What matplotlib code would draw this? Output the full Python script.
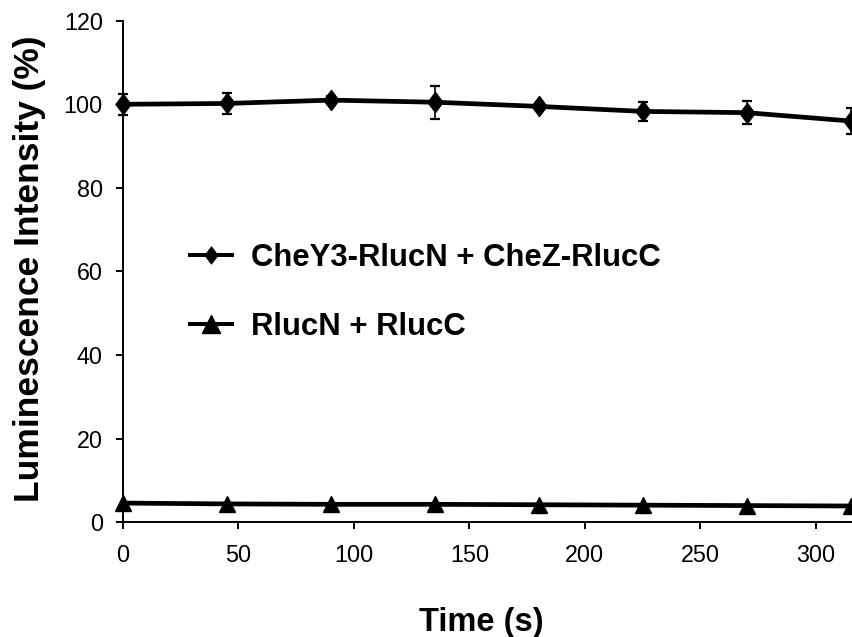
import matplotlib
matplotlib.use("Agg")
import matplotlib.pyplot as plt
from matplotlib.path import Path
from matplotlib.lines import Line2D

plt.rcParams['font.family'] = ['Liberation Sans', 'DejaVu Sans']

time_s = [0, 45, 90, 135, 180, 225, 270, 315]
chey3_vals = [100.0, 100.2, 101.0, 100.5, 99.5, 98.3, 98.0, 96.0]
chey3_err = [2.5, 2.6, 1.0, 3.9, 0.8, 2.3, 2.7, 3.1]
rluc_vals = [4.6, 4.4, 4.3, 4.3, 4.2, 4.1, 4.0, 3.9]
label_a = "CheY3-RlucN + CheZ-RlucC"
label_b = "RlucN + RlucC"
xticks = [0, 50, 100, 150, 200, 250, 300]
yticks = [0, 20, 40, 60, 80, 100, 120]

W, H = 853, 637
fig = plt.figure(figsize=(W / 100, H / 100), dpi=100)
ax = fig.add_axes([122.7 / W, 114.7 / H, 1 - 122.7 / W, (522.3 - 20.7) / H])

diamond = Path([(0, 1), (0.75, 0), (0, -1), (-0.75, 0), (0, 1)],
               [Path.MOVETO, Path.LINETO, Path.LINETO, Path.LINETO, Path.CLOSEPOLY])

ax.errorbar(time_s, chey3_vals, yerr=chey3_err, fmt='none', ecolor='black',
            elinewidth=1.2, capsize=3.3, capthick=1.6, clip_on=False, zorder=2)
ax.plot(time_s, chey3_vals, color='black', lw=3.4, marker=diamond, ms=14.4,
        mfc='black', mec='black', clip_on=False, zorder=3)
ax.plot(time_s, rluc_vals, color='black', lw=3.4, marker='^', ms=12.2,
        mfc='black', mec='black', clip_on=False, zorder=3)

ax.set_xlim(0, 316)
ax.set_ylim(0, 120)
ax.set_xticks(xticks)
ax.set_yticks(yticks)
for s in ['top', 'right']:
    ax.spines[s].set_visible(False)
for s in ['left', 'bottom']:
    ax.spines[s].set_linewidth(1.4)
ax.tick_params(axis='both', direction='out', length=4.8, width=1.4,
               labelsize=16.8, colors='black')
ax.tick_params(axis='x', pad=10.5)
ax.tick_params(axis='y', pad=9.5)

h1 = Line2D([], [], color='black', lw=2.9, marker=diamond, ms=12.0, mfc='black', mec='black')
h2 = Line2D([], [], color='black', lw=2.9, marker='^', ms=12.5, mfc='black', mec='black')
fs = 22.4
fs_px = fs * 100 / 72
leg = ax.legend([h1, h2], [label_a, label_b], frameon=False,
                prop={'family': ['Liberation Sans'], 'weight': 'bold', 'size': fs},
                handlelength=41.7 / fs_px, handletextpad=19.0 / fs_px,
                labelspacing=1.26, borderpad=0, borderaxespad=0,
                loc='upper left', bbox_to_anchor=(190 / W, (H - 243) / H),
                bbox_transform=fig.transFigure)

fig.text(481.7 / W, 6.3 / H, "Time (s)", ha='center', va='baseline',
         fontsize=23.5, fontweight='bold')
fig.text(39.0 / W, (H - 269) / H, "Luminescence Intensity (%)", ha='center',
         va='baseline', rotation=90, rotation_mode='anchor',
         fontsize=25.5, fontweight='bold')

fig.savefig("out.png", dpi=100)
